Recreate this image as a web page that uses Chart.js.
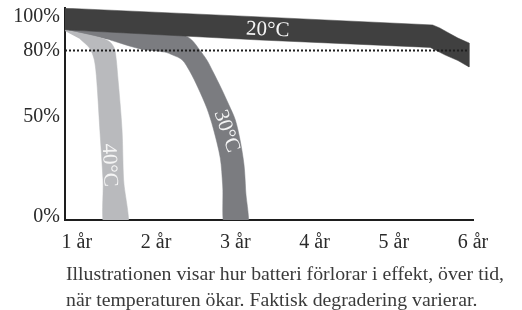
<!DOCTYPE html>
<html lang="sv">
<head>
<meta charset="utf-8">
<title>Batteri och temperatur</title>
<script src="https://cdn.jsdelivr.net/npm/chart.js@4/dist/chart.umd.min.js"></script>
<style>
  html, body { margin: 0; padding: 0; background: #fff; }
  #wrap { position: relative; width: 522px; height: 310px; }
  #chart { position: absolute; left: 0; top: 0; }
  #caption {
    position: absolute; left: 66px; top: 260px;
    font-family: "Liberation Serif", serif; font-size: 19.8px;
    line-height: 26px; color: #3a3a3a; white-space: nowrap;
  }
</style>
</head>
<body>
<div id="wrap">
  <canvas id="chart" width="522" height="310"></canvas>
  <div id="caption">Illustrationen visar hur batteri förlorar i effekt, över tid,<br>när temperaturen ökar. Faktisk degradering varierar.</div>
</div>
<script>
// x = år, y = kapacitet (%), band drawn as closed outlines
const xTickValues = [1, 2, 3, 4, 5, 6];
const yTickValues = [1.5, 48.5, 80, 96];
const yTickLabels = ['0%', '50%', '80%', '100%'];

const band20 = [
  [0.80, 100], [3.31, 95.8], [5.49, 92.0], [5.58, 90.6], [5.67, 88.7], [5.81, 85.8], [5.95, 83.5],
  [5.95, 72.2], [5.81, 75.2], [5.65, 77.8], [5.55, 79.7], [5.46, 81.4], [3.31, 84.9], [0.80, 89.8]
];
const band30 = [
  [0.81, 89.9], [1.54, 88.7], [2.34, 87.3], [2.45, 84.9], [2.55, 80.2], [2.64, 75.5], [2.72, 69.8],
  [2.82, 62.3], [2.92, 54.2], [3.00, 47.2], [3.06, 37.7], [3.11, 25.9], [3.13, 14.2], [3.15, -5.7],
  [2.88, -5.7], [2.84, 16.5], [2.81, 29.2], [2.72, 43.4], [2.64, 52.8], [2.53, 62.3], [2.43, 69.8],
  [2.33, 75.5], [2.21, 77.8], [2.11, 79.2], [1.80, 80.7], [1.42, 84.9]
];
const band40 = [
  [0.81, 89.9], [1.10, 87.7], [1.35, 85.4], [1.43, 83.5], [1.48, 80.2], [1.52, 66.0], [1.57, 42.5],
  [1.59, 18.9], [1.64, -5.7],
  [1.36, -5.7], [1.33, 18.9], [1.29, 42.5], [1.25, 66.0], [1.22, 75.5], [1.16, 81.1], [1.04, 85.4]
];
const limitLine = [[0.85, 80], [5.95, 80]];

// band labels: text, anchor (år, %), angle in degrees
const bandLabels = [
  { text: '20°C', x: 3.41, y: 90.1, angle: 2.6 },
  { text: '30°C', x: 2.90, y: 42.0, angle: 71 },
  { text: '40°C', x: 1.42, y: 25.9, angle: 87.7 }
];

const toPoints = arr => arr.map(p => ({ x: p[0], y: p[1] }));
const serif = '"Liberation Serif", serif';

function bandDataset(label, pts, color, order, tension) {
  return {
    label: label,
    data: toPoints(pts),
    showLine: true,
    fill: 'shape',
    backgroundColor: color,
    borderColor: color,
    borderWidth: 0.5,
    pointRadius: 0,
    tension: tension,
    order: order
  };
}

const labelPlugin = {
  id: 'bandLabels',
  afterDatasetsDraw(chart) {
    const ctx = chart.ctx;
    const xs = chart.scales.x, ys = chart.scales.y;
    ctx.save();
    ctx.fillStyle = '#f4f4f4';
    ctx.font = '21px ' + serif;
    ctx.textAlign = 'center';
    ctx.textBaseline = 'middle';
    bandLabels.forEach(l => {
      ctx.save();
      ctx.translate(xs.getPixelForValue(l.x), ys.getPixelForValue(l.y));
      ctx.rotate(l.angle * Math.PI / 180);
      ctx.fillText(l.text, 0, 1);
      ctx.restore();
    });
    ctx.restore();
  }
};

new Chart(document.getElementById('chart'), {
  type: 'scatter',
  data: {
    datasets: [
      {
        label: '80%',
        data: toPoints(limitLine),
        showLine: true,
        borderColor: '#1e1e1e',
        borderWidth: 2,
        borderDash: [2, 2],
        pointRadius: 0,
        order: -1
      },
      bandDataset('20°C', band20, '#404040', 0, 0),
      bandDataset('40°C', band40, '#b9babd', 1, 0.3),
      bandDataset('30°C', band30, '#7b7c80', 2, 0.3)
    ]
  },
  options: {
    responsive: false,
    animation: false,
    events: [],
    layout: { padding: { top: 8, right: 49, bottom: 0, left: 0 } },
    plugins: { legend: { display: false }, tooltip: { enabled: false } },
    scales: {
      x: {
        type: 'linear',
        min: 0.85,
        max: 6,
        grid: { display: false, drawTicks: false },
        border: { color: '#1e1e1e', width: 2 },
        afterBuildTicks: s => { s.ticks = xTickValues.map(v => ({ value: v })); },
        afterFit: s => { s.height = 90; s.paddingLeft = 0; s.paddingRight = 0; },
        ticks: {
          padding: 11,
          color: '#2a2a2a',
          font: { family: serif, size: 20 },
          callback: v => v + ' år'
        }
      },
      y: {
        min: 0,
        max: 100,
        grid: { display: false, drawTicks: false },
        border: { color: '#1e1e1e', width: 2 },
        afterBuildTicks: s => { s.ticks = yTickValues.map(v => ({ value: v })); },
        afterFit: s => { s.width = 65; s.paddingTop = 0; s.paddingBottom = 0; },
        ticks: {
          padding: 5,
          color: '#2a2a2a',
          font: { family: serif, size: 20 },
          callback: (v, i) => yTickLabels[i]
        }
      }
    }
  },
  plugins: [labelPlugin]
});
</script>
</body>
</html>
